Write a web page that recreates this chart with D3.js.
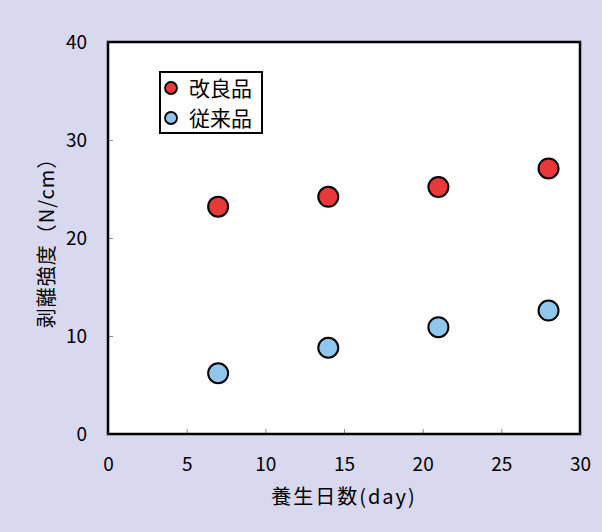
<!DOCTYPE html>
<html>
<head>
<meta charset="utf-8">
<script src="https://cdn.jsdelivr.net/npm/d3@7"></script>
<style>
  body { margin: 0; background: #d8d8ee; }
  text { font-family: "Noto Sans CJK JP", "Noto Sans", sans-serif; fill: #000; }
</style>
</head>
<body>
<div id="chart"></div>
<script>
// data
const days = [7, 14, 21, 28];
const improved = [23.2, 24.2, 25.2, 27.1];   // 改良品
const conventional = [6.2, 8.8, 10.9, 12.6]; // 従来品
const seriesNames = ["改良品", "従来品"];
const seriesColors = ["#e8383a", "#8ec6ec"];
const xTicks = [0, 5, 10, 15, 20, 25, 30];
const yTicks = [0, 10, 20, 30, 40];

let margin = {top: 42, right: 22, bottom: 98, left: 108},
    width = 602 - margin.left - margin.right,
    height = 532 - margin.top - margin.bottom;

let svg = d3.select("#chart").append("svg")
    .attr("width", 602)
    .attr("height", 532);

svg.append("rect")
    .attr("width", 602).attr("height", 532)
    .attr("fill", "#d8d8ee");

let g = svg.append("g")
    .attr("transform", "translate(" + margin.left + "," + margin.top + ")");

let x = d3.scaleLinear().domain([0, 30]).range([0, width]);
let y = d3.scaleLinear().domain([0, 40]).range([height, 0]);

// plot area
g.append("rect")
    .attr("width", width).attr("height", height)
    .attr("fill", "#fff");

// inward ticks
let xAxis = g.append("g")
    .attr("transform", "translate(0," + height + ")")
    .call(d3.axisBottom(x).tickValues(xTicks).tickSizeInner(-5).tickSizeOuter(0).tickPadding(24));
let yAxis = g.append("g")
    .call(d3.axisLeft(y).tickValues(yTicks).tickSizeInner(-5).tickSizeOuter(0).tickPadding(21));

[xAxis, yAxis].forEach((a) => {
    a.select(".domain").remove();
    a.selectAll(".tick line").attr("stroke", "#888").attr("stroke-width", 1);
    a.selectAll(".tick text").style("font-size", "19px").attr("fill", "#000");
});

// border
g.append("rect")
    .attr("width", width).attr("height", height)
    .attr("fill", "none")
    .attr("stroke", "#000")
    .attr("stroke-width", 2.5);

// points
[improved, conventional].forEach((vals, i) => {
    g.selectAll(".pt" + i)
        .data(vals)
        .enter()
        .append("circle")
        .attr("cx", (d, j) => x(days[j]))
        .attr("cy", (d) => y(d))
        .attr("r", 10)
        .attr("fill", seriesColors[i])
        .attr("stroke", "#000")
        .attr("stroke-width", 2);
});

// legend
let lg = g.append("g").attr("transform", "translate(52,30)");
lg.append("rect")
    .attr("width", 102).attr("height", 61)
    .attr("fill", "#fff")
    .attr("stroke", "#000")
    .attr("stroke-width", 2);
seriesNames.forEach((name, i) => {
    lg.append("circle")
        .attr("cx", 11).attr("cy", 16 + i * 30)
        .attr("r", 6)
        .attr("fill", seriesColors[i])
        .attr("stroke", "#000")
        .attr("stroke-width", 1.8);
    lg.append("text")
        .attr("x", 29).attr("y", 16 + i * 30)
        .attr("dy", "0.36em")
        .style("font-size", "21px")
        .text(name);
});

// axis titles
svg.append("text")
    .attr("x", margin.left + width / 2)
    .attr("y", 504)
    .attr("text-anchor", "middle")
    .style("font-size", "20px")
    .style("letter-spacing", "2px")
    .text("養生日数(day)");

svg.append("text")
    .attr("transform", "translate(54," + (margin.top + height / 2) + ") rotate(-90)")
    .attr("text-anchor", "middle")
    .style("font-size", "20px")
    .style("letter-spacing", "1px")
    .text("剥離強度（N/cm）");
</script>
</body>
</html>
